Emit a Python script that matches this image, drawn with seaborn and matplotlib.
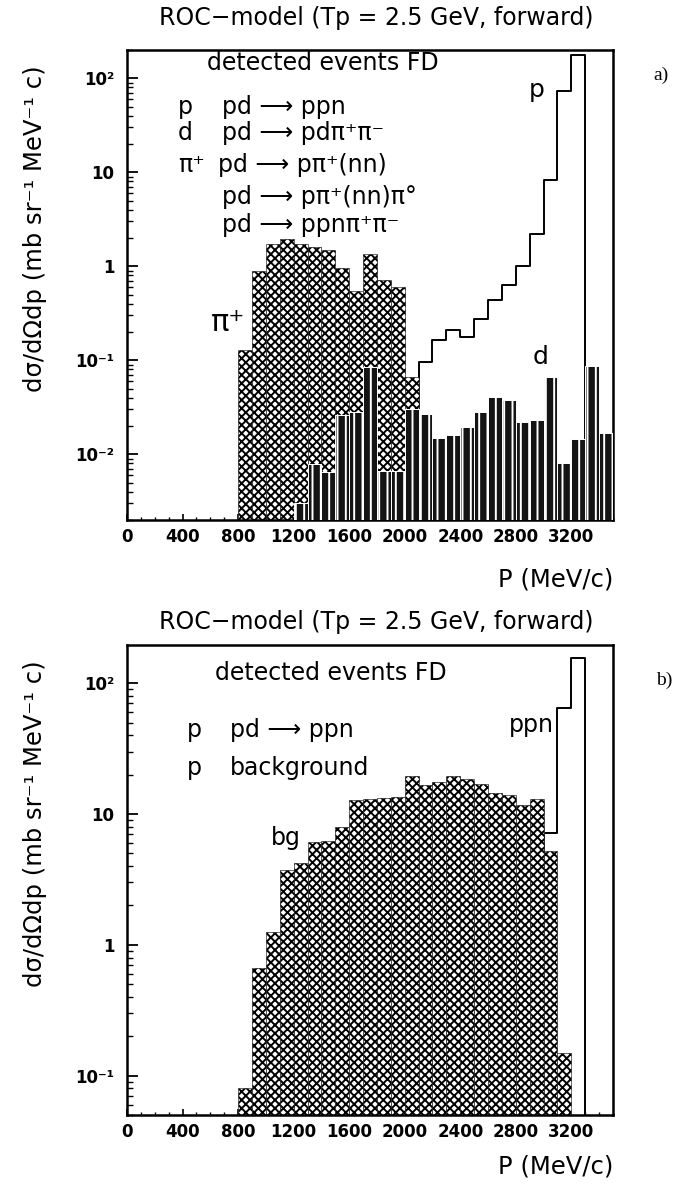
import numpy as np
import pandas as pd
import matplotlib
matplotlib.use("Agg")
import matplotlib.pyplot as plt
from matplotlib.ticker import FixedLocator, MultipleLocator, LogLocator, NullFormatter
import seaborn as sns

# all histograms use 100 MeV/c bins, given by the lower edge of the first bin
bin_w = 100

# panel a)
pip_start = 800
pip_vals = [0.13, 0.90, 1.73, 1.96, 1.73, 1.62, 1.49, 0.95, 0.54, 1.35, 0.71, 0.60, 0.066]
d_start = 1200
d_vals = [0.003, 0.0078, 0.0065, 0.026, 0.028, 0.085, 0.0066, 0.0066, 0.03, 0.027,
          0.015, 0.016, 0.0195, 0.028, 0.041, 0.038, 0.022, 0.023, 0.067, 0.0081,
          0.0145, 0.086, 0.017]
p_start = 2100
p_vals = [0.096, 0.166, 0.21, 0.177, 0.278, 0.44, 0.63, 1.0, 2.2, 8.2, 73, 178]

# panel b)
bg_start = 800
bg_vals = [0.080, 0.66, 1.26, 3.73, 4.2, 6.1, 6.2, 8.0, 12.8, 13.1, 13.3, 13.5,
           19.6, 16.6, 17.6, 19.6, 18.6, 17.1, 14.6, 13.9, 11.7, 13.0, 5.2, 0.15]
ppn_start = 2100
ppn_vals = [0.08, 0.17, 0.22, 0.22, 0.30, 0.42, 0.48, 0.94, 2.15, 7.2, 65, 156]

x_ticks = [0, 400, 800, 1200, 1600, 2000, 2400, 2800, 3200]
yticks_a = [0.01, 0.1, 1, 10, 100]
ylabels_a = ["10⁻²", "10⁻¹", "1", "10", "10²"]
yticks_b = [0.1, 1, 10, 100]
ylabels_b = ["10⁻¹", "1", "10", "10²"]

title = "ROC−model (Tp = 2.5 GeV, forward)"
ylab = "dσ/dΩdp (mb sr⁻¹ MeV⁻¹ c)"
xlab = "P (MeV/c)"
legend_a = [("p", "pd ⟶ ppn"), ("d", "pd ⟶ pdπ⁺π⁻"), ("π⁺", "pd ⟶ pπ⁺(nn)"),
            ("", "pd ⟶ pπ⁺(nn)π°"), ("", "pd ⟶ ppnπ⁺π⁻")]
legend_b = [("p", "pd ⟶ ppn"), ("p", "background")]

sns.set_style("ticks")
plt.rcParams["font.family"] = ["DejaVu Sans"]
plt.rcParams["hatch.linewidth"] = 1.4
for key in ["text.color", "axes.labelcolor", "xtick.color", "ytick.color", "axes.edgecolor"]:
    plt.rcParams[key] = "black"

W, H = 674, 1188


def hist(ax, start, vals, **kw):
    lo = start + bin_w * np.arange(len(vals))
    df = pd.DataFrame({"P": lo + bin_w / 2, "w": vals})
    edges = [float(e) for e in start + bin_w * np.arange(len(vals) + 1)]
    sns.histplot(data=df, x="P", weights="w", bins=edges, ax=ax, **kw)


def style_axis(ax, yticks, ylabels, ylim):
    ax.set_xlim(0, 3500)
    ax.set_ylim(*ylim)
    ax.xaxis.set_major_locator(FixedLocator(x_ticks))
    ax.xaxis.set_minor_locator(MultipleLocator(100))
    ax.set_yticks(yticks)
    ax.set_yticklabels(ylabels)
    ax.yaxis.set_minor_locator(LogLocator(base=10, subs=np.arange(2, 10)))
    ax.yaxis.set_minor_formatter(NullFormatter())
    ax.tick_params(axis="both", which="both", direction="in", top=False, right=False)
    ax.tick_params(axis="y", which="major", length=8, width=1.3, labelsize=12, pad=9)
    ax.tick_params(axis="y", which="minor", length=4, width=1)
    ax.tick_params(axis="x", which="major", length=4, width=1.2, labelsize=12, pad=6)
    ax.tick_params(axis="x", which="minor", length=2.5, width=1)
    for lab in ax.get_xticklabels() + ax.get_yticklabels():
        lab.set_fontweight("bold")
    for sp in ax.spines.values():
        sp.set_linewidth(1.8)
        sp.set_visible(True)
    ax.set_ylabel(ylab, fontsize=17.5)
    ax.yaxis.set_label_coords(-0.165, 0.62)
    ax.set_xlabel(xlab, fontsize=17.5, loc="right")


fig = plt.figure(figsize=(W / 100, H / 100), dpi=100)
ax_a = fig.add_axes([127 / W, 1 - 520 / H, 486 / W, 470 / H])
ax_b = fig.add_axes([127 / W, 1 - 1115 / H, 486 / W, 470 / H])
for ax in (ax_a, ax_b):
    ax.set_yscale("log")

# ---- panel a
hist(ax_a, p_start, p_vals, element="step", fill=True, facecolor="white",
     edgecolor="black", linewidth=1.4, zorder=1)
hist(ax_a, pip_start, pip_vals, element="bars", fill=True, facecolor="white",
     edgecolor="black", hatch="xxxx", linewidth=0.4, zorder=2)
hist(ax_a, d_start, d_vals, element="bars", fill=True, facecolor="#141414",
     edgecolor="white", hatch="||", linewidth=0.7, zorder=3)
style_axis(ax_a, yticks_a, ylabels_a, (0.002, 200))
ax_a.xaxis.set_label_coords(1.0, -0.1)

ax_a.text(0.165, 0.972, "detected events FD", transform=ax_a.transAxes,
          fontsize=17, ha="left", va="center")
ys = [0.879, 0.823, 0.755, 0.687, 0.628]
xs = [0.195, 0.195, 0.188, 0.195, 0.195]
for (lab, reac), y, x in zip(legend_a, ys, xs):
    ax_a.text(0.105, y, lab, transform=ax_a.transAxes, fontsize=17, va="center")
    ax_a.text(x, y, reac, transform=ax_a.transAxes, fontsize=17, va="center")
ax_a.text(0.842, 0.915, "p", transform=ax_a.transAxes, fontsize=18, ha="center", va="center")
ax_a.text(0.850, 0.347, "d", transform=ax_a.transAxes, fontsize=18, ha="center", va="center")
ax_a.text(0.208, 0.421, "π⁺", transform=ax_a.transAxes, fontsize=22, ha="center", va="center")

# ---- panel b
hist(ax_b, ppn_start, ppn_vals, element="step", fill=True, facecolor="white",
     edgecolor="black", linewidth=1.4, zorder=1)
hist(ax_b, bg_start, bg_vals, element="bars", fill=True, facecolor="white",
     edgecolor="black", hatch="xxxx", linewidth=0.4, zorder=2)
style_axis(ax_b, yticks_b, ylabels_b, (0.05, 196))
ax_b.xaxis.set_label_coords(1.0, -0.083)

ax_b.text(0.181, 0.940, "detected events FD", transform=ax_b.transAxes,
          fontsize=17, ha="left", va="center")
for (lab, reac), y in zip(legend_b, [0.819, 0.738]):
    ax_b.text(0.123, y, lab, transform=ax_b.transAxes, fontsize=17, va="center")
    ax_b.text(0.212, y, reac, transform=ax_b.transAxes, fontsize=17, va="center")
ax_b.text(0.833, 0.830, "ppn", transform=ax_b.transAxes, fontsize=17, ha="center", va="center")
ax_b.text(0.327, 0.589, "bg", transform=ax_b.transAxes, fontsize=17, ha="center", va="center")

# titles and panel tags
fig.text(376 / W, 1 - 18 / H, title, fontsize=17, ha="center", va="center")
fig.text(376 / W, 1 - 622 / H, title, fontsize=17, ha="center", va="center")
fig.text(661 / W, 1 - 75 / H, "a)", fontsize=14, family="Liberation Serif", ha="center", va="center")
fig.text(664 / W, 1 - 680 / H, "b)", fontsize=14, family="Liberation Serif", ha="center", va="center")

fig.savefig("out.png", dpi=100)
